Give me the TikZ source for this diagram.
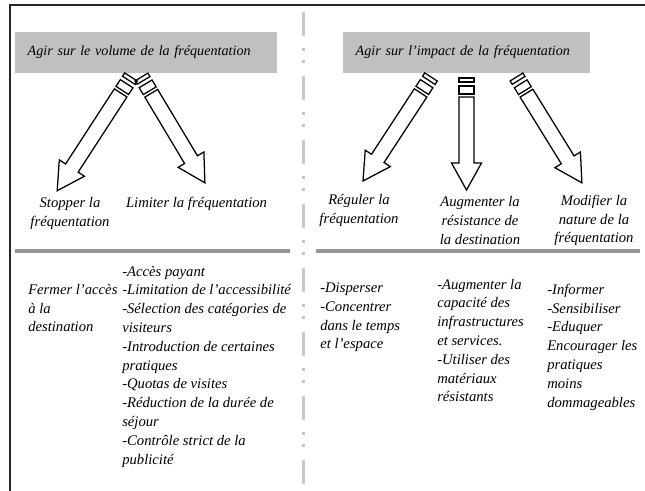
\documentclass[tikz,border=0pt]{standalone}
\usepackage{fontspec}
\setmainfont{Liberation Serif}
\usetikzlibrary{calc}

% striped block arrow from coordinate #1 (tail) to coordinate #2 (tip)
\newcommand{\stripedarrow}[2]{%
  \pgfpointdiff{\pgfpointanchor{#1}{center}}{\pgfpointanchor{#2}{center}}%
  \pgfgetlastxy{\sadx}{\sady}%
  \pgfmathsetmacro{\saang}{atan2(\sady,\sadx)}%
  \pgfmathsetmacro{\salen}{veclen(\sadx,\sady)}%
  \begin{scope}[shift={(#1)}, rotate=\saang, line width=0.95pt, line join=miter]
    \draw (0pt,-5.625pt) rectangle (3pt,5.625pt);
    \draw (6pt,-5.625pt) rectangle (12pt,5.625pt);
    \draw (14.25pt,-5.625pt) -- ({\salen pt-20.25pt},-5.625pt) -- ({\salen pt-20.25pt},-11.25pt)
      -- ({\salen pt},0pt) -- ({\salen pt-20.25pt},11.25pt) -- ({\salen pt-20.25pt},5.625pt)
      -- (14.25pt,5.625pt) -- cycle;
  \end{scope}}

\definecolor{headgray}{RGB}{192,192,192}
\definecolor{rulegray}{RGB}{150,150,150}
\definecolor{sepgray}{RGB}{200,200,200}

\tikzset{
  headbox/.style={fill=headgray, inner sep=0pt, minimum height=30.75pt, align=left,
    execute at begin node={\hspace*{9.5pt}},
    font=\itshape\fontsize{10.6}{14.1}\selectfont},
  lbl/.style={inner sep=0pt, align=center, font=\itshape\fontsize{11}{14.1}\selectfont},
  lst/.style={inner sep=0pt, align=left, anchor=west, font=\itshape\fontsize{11}{14.1}\selectfont},
  hrule/.style={rulegray, line width=2.6pt},
}

\begin{document}
\begin{tikzpicture}[x=0.75pt,y=-0.75pt]
	\useasboundingbox (0,0) rectangle (645,491);

	% frame and separator
	\draw [line width=0.8pt, black!85] (10,491) -- (10,5) -- (645,5);
	\draw [sepgray, line width=2.25pt, dash pattern=on 18pt off 9pt on 2.25pt off 6.75pt on 2.25pt off 9.75pt] (303,12) -- (303,491);
	\draw [hrule] (15,251) -- (290,251);
	\draw [hrule] (316,251) -- (640,251);

	% Headers
	\node [headbox, text width=196.5pt] (hvol) at (146,52.5) {Agir sur le volume de la fréquentation};
	\node [headbox, text width=185.25pt] (himp) at (466.5,52.5) {Agir sur l’impact de la fréquentation};

	% Arrow labels
	\node [lbl] (stop) at (70,213.5) {Stopper la\\fréquentation};
	\node [lbl] (limit) at (196.5,204) {Limiter la fréquentation};
	\node [lbl] (regul) at (359,210.5) {Réguler la\\fréquentation};
	\node [lbl] (augm) at (480,220.5) {Augmenter la\\résistance de\\la destination};
	\node [lbl] (modif) at (594,220.5) {Modifier la\\nature de la\\fréquentation};

	% Arrows
	\coordinate (ts) at (131,77);
	\coordinate (ps) at (57,191);
	\coordinate (tl) at (141.5,77);
	\coordinate (pl) at (205,183);
	\coordinate (tr) at (431,77);
	\coordinate (pr) at (363,181);
	\coordinate (ta) at (466.5,78);
	\coordinate (pa) at (466.5,190);
	\coordinate (tm) at (516.5,77);
	\coordinate (pm) at (582,183);
	\stripedarrow{ts}{ps}
	\stripedarrow{tl}{pl}
	\stripedarrow{tr}{pr}
	\stripedarrow{ta}{pa}
	\stripedarrow{tm}{pm}

	% Measures
	\node [lst] (fermer) at (28,308) {Fermer l’accès\\à la\\destination};
	\node [lst] (limlist) at (122,366.5) {-Accès payant\\-Limitation de l’accessibilité\\-Sélection des catégories de\\visiteurs\\-Introduction de certaines\\pratiques\\-Quotas de visites\\-Réduction de la durée de\\séjour\\-Contrôle strict de la\\publicité};
	\node [lst] (reglist) at (320,317.5) {-Disperser\\-Concentrer\\dans le temps\\et l’espace};
	\node [lst] (auglist) at (437,340.5) {-Augmenter la\\capacité des\\infrastructures\\et services.\\-Utiliser des\\matériaux\\résistants};
	\node [lst] (modlist) at (547,347) {-Informer\\-Sensibiliser\\-Eduquer\\Encourager les\\pratiques\\moins\\dommageables};

\end{tikzpicture}
\end{document}
